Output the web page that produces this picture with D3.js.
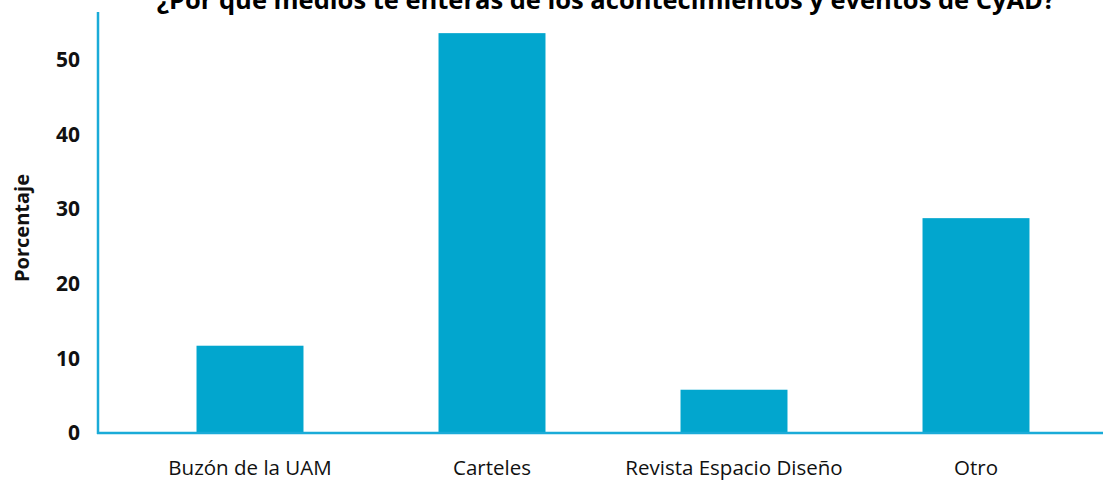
<!DOCTYPE html>
<html><head><meta charset="utf-8">
<script src="https://cdn.jsdelivr.net/npm/d3@7"></script>
<style>body{margin:0;background:#fff}svg{display:block}</style>
</head><body>
<svg id="c" width="1103" height="482"></svg>
<script>
const categories = ["Buzón de la UAM", "Carteles", "Revista Espacio Diseño", "Otro"];
const values = [11.7, 53.6, 5.8, 28.8];
const yTicks = [0, 10, 20, 30, 40, 50];
const title = "¿Por qué medios te enteras de los acontecimientos y eventos de CyAD?";
const yLabel = "Porcentaje";

const svg = d3.select("#c");
const font = "'Open Sans', 'DejaVu Sans', sans-serif";
const barColor = "#02A6CE", axisColor = "#1AABD8";

const x = d3.scaleBand().domain(categories).range([129, 1097]).paddingInner(0.558).paddingOuter(0.279);
const y = d3.scaleLinear().domain([0, 50]).range([433, 60]);

svg.append("text").attr("x", 606).attr("y", 9).attr("text-anchor", "middle")
  .attr("font-family", font).attr("font-weight", "bold").attr("font-size", 25.5).attr("fill", "#000").text(title);

svg.selectAll("rect.bar").data(categories).join("rect").attr("class", "bar")
  .attr("x", d => x(d)).attr("width", x.bandwidth())
  .attr("y", (d, i) => y(values[i])).attr("height", (d, i) => y(0) - y(values[i]))
  .attr("fill", barColor);

const yAxis = svg.append("g").attr("transform", "translate(98,0)")
  .call(d3.axisLeft(y).tickValues(yTicks).tickSize(0).tickPadding(18));
yAxis.select(".domain").remove();
yAxis.selectAll("text").attr("font-family", font).attr("font-weight", "bold").attr("font-size", 21).attr("fill", "#111");

const xAxis = svg.append("g").attr("transform", "translate(0,433)")
  .call(d3.axisBottom(x).tickSize(0).tickPadding(27));
xAxis.select(".domain").remove();
xAxis.selectAll("text").attr("font-family", font).attr("font-size", 20.5).attr("fill", "#111");

svg.append("line").attr("x1", 98).attr("x2", 98).attr("y1", 12).attr("y2", 434)
  .attr("stroke", axisColor).attr("stroke-width", 2.5);
svg.append("line").attr("x1", 97).attr("x2", 1103).attr("y1", 433).attr("y2", 433)
  .attr("stroke", axisColor).attr("stroke-width", 2.5);

svg.append("text").attr("transform", "translate(29,228) rotate(-90)").attr("text-anchor", "middle")
  .attr("font-family", font).attr("font-weight", "bold").attr("font-size", 20).attr("fill", "#111").text(yLabel);
</script>
</body></html>
